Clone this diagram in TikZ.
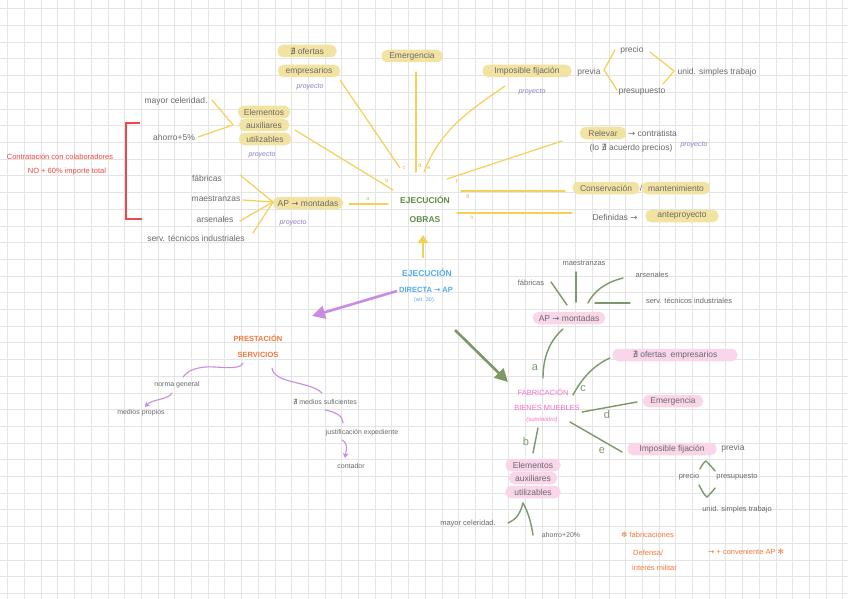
\documentclass[tikz,border=0pt]{standalone}
\usepackage{fontspec}
\setmainfont{Liberation Sans}
\newfontfamily\symf{DejaVu Sans}
\usetikzlibrary{arrows.meta}
\definecolor{gridc}{HTML}{E4E4E4}
\definecolor{txtgray}{HTML}{6A6A6A}
\definecolor{hly}{HTML}{F3E3A3}
\definecolor{hlp}{HTML}{FAD6EA}
\definecolor{ylw}{HTML}{F6CF55}
\definecolor{ylabc}{HTML}{E2B93A}
\definecolor{grn}{HTML}{7D9869}
\definecolor{grnt}{HTML}{5E8C46}
\definecolor{pinkt}{HTML}{F56EC8}
\definecolor{purp}{HTML}{C98CE2}
\definecolor{proyc}{HTML}{8A80C8}
\definecolor{bluet}{HTML}{52AAF5}
\definecolor{oranget}{HTML}{F5783C}
\definecolor{redc}{HTML}{F04848}
\begin{document}
\begin{tikzpicture}[x=1pt,y=-1pt,
 every node/.style={inner sep=0pt},
 tx/.style={text=txtgray, font=\fontsize{8.5}{10}\selectfont},
 hy/.style={tx, fill=hly, rounded corners=5.5pt, minimum height=12.5pt, inner xsep=3pt},
 hp/.style={tx, fill=hlp, rounded corners=5.5pt, minimum height=12.5pt, inner xsep=3pt},
 proy/.style={text=proyc, font=\fontsize{7}{8}\selectfont\itshape},
 yline/.style={draw=ylw, line width=1.2pt, line cap=round},
 gline/.style={draw=grn, line width=1.4pt, line cap=round},
 pline/.style={draw=purp, line width=1.1pt, line cap=round},
 ylab/.style={text=ylabc, font=\fontsize{5.5}{6}\selectfont},
 glab/.style={text=grn, font=\fontsize{11}{12}\selectfont},
 ttl/.style={font=\fontsize{8.5}{10}\selectfont\bfseries},
]
\useasboundingbox (0,0) rectangle (848,599);
\fill[white] (0,0) rectangle (848,599);
\foreach \i in {0,...,50} \draw[gridc, line width=0.6pt] ({7.6+\i*16.7},0) -- ({7.6+\i*16.7},599);
\foreach \j in {0,...,35} \draw[gridc, line width=0.6pt] (0,{8.7+\j*16.7}) -- (848,{8.7+\j*16.7});

% ===== EJECUCION OBRAS (yellow) =====
\node[ttl, text=grnt] (obras1) at (425,200) {EJECUCIÓN};
\node[ttl, text=grnt] (obras2) at (425,220) {OBRAS};

\node[hy, minimum width=59pt] (ofe1) at (307,51) {{\symf ∄} ofertas};
\node[hy, minimum width=62pt] (emp1) at (309,71) {empresarios};
\node[proy] (proy1) at (310,87) {proyecto};
\node[hy, minimum width=61pt] (emer1) at (412,56) {Emergencia};
\node[hy, minimum width=89pt] (imp1) at (527,71) {Imposible fijación};
\node[tx] (prev1) at (589,72) {previa};
\node[proy] (proy2) at (532,92) {proyecto};
\node[tx] (prec1) at (632,50) {precio};
\node[tx] (pres1) at (642,92) {presupuesto};
\node[tx] (unid1) at (717,72) {unid. simples trabajo};
\node[hy, minimum width=46pt] (rel) at (603,133) {Relevar};
\node[tx, anchor=west] (contr) at (628,133) {{\symf →} contratista};
\node[tx] (acu) at (631,148) {(lo {\symf ∄} acuerdo precios)};
\node[proy] (proy3) at (694,145) {proyecto};
\node[hy, minimum width=67pt] (cons) at (606,188) {Conservación};
\node[tx] (slash) at (641,188) {/};
\node[hy, minimum width=68pt] (mant) at (676,188) {mantenimiento};
\node[tx] (defi) at (615,217) {Definidas {\symf →}};
\node[hy, minimum width=73pt] (ante) at (682,216) {anteproyecto};

\node[hy, minimum width=52pt] (ela) at (264,112) {Elementos};
\node[hy, minimum width=50pt] (elb) at (264,125) {auxiliares};
\node[hy, minimum width=52pt] (elc) at (265,139) {utilizables};
\node[proy] (proy4) at (262,155) {proyecto};
\node[tx] (may1) at (176,101) {mayor celeridad.};
\node[tx] (aho1) at (174,137) {ahorro+5\%};

\node[tx] (fab1) at (207,178) {fábricas};
\node[tx] (mae1) at (216,199) {maestranzas};
\node[tx] (ars1) at (215,219) {arsenales};
\node[tx] (ser1) at (196,238) {serv. técnicos industriales};
\node[hy, minimum width=70pt] (apm1) at (308,203) {AP {\symf →} montadas};
\node[proy] (proy5) at (293,223) {proyecto};

% yellow connector coordinates
\coordinate (jA) at (233,125);
\draw[yline] (212,100) coordinate (may1e) -- (jA);
\draw[yline] (198,137) coordinate (aho1e) -- (jA);
\coordinate (jB) at (273,202);
\foreach \p in {(240,175),(243,200),(240,221),(253,233)} \draw[yline] \p -- (jB);

\coordinate (ca1) at (349,204); \coordinate (ca2) at (388,204);
\draw[yline] (ca1) -- (ca2); \node[ylab] at (368,199) {a};
\coordinate (cb1) at (295,130); \coordinate (cb2) at (393,190);
\draw[yline] (cb1) -- (cb2); \node[ylab] at (387,181) {b};
\coordinate (cc1) at (340,80); \coordinate (cc2) at (400,168);
\draw[yline] (cc1) -- (cc2); \node[ylab] at (404,168) {c};
\coordinate (cd1) at (416,72); \coordinate (cd2) at (416,172);
\draw[yline] (cd1) -- (cd2); \node[ylab] at (420,166) {d};
\coordinate (ce1) at (505,86); \coordinate (ce2) at (424,172);
\draw[yline] (ce1) .. controls (470,110) and (440,130) .. (ce2); \node[ylab] at (429,168) {e};
\coordinate (cf1) at (562,141); \coordinate (cf2) at (447,179);
\draw[yline] (cf1) -- (cf2); \node[ylab] at (457,182) {f};
\coordinate (cg1) at (565,191); \coordinate (cg2) at (461,191);
\draw[yline] (cg1) -- (cg2); \node[ylab] at (468,197) {g};
\coordinate (ch1) at (572,213); \coordinate (ch2) at (457,213);
\draw[yline] (ch1) -- (ch2); \node[ylab] at (472,218) {h};

\draw[yline] (615,50) -- (604,70) -- (617,90);
\draw[yline] (650,52) -- (674,71) -- (663,84);

% red bracket
\draw[redc, line width=1.8pt] (140,123) -- (126,123) -- (126,219) -- (142,219);
\node[text=redc, font=\fontsize{7.5}{9}\selectfont] (rt1) at (60,157) {Contratación con colaboradores};
\node[text=redc, font=\fontsize{7.5}{9}\selectfont] (rt2) at (67,172) {NO + 60\% importe total};

% ===== EJECUCION DIRECTA =====
\node[ttl, text=bluet] (ed1) at (427,273) {EJECUCIÓN};
\node[text=bluet, font=\fontsize{7.5}{9}\selectfont\bfseries] (ed2) at (426,290) {DIRECTA {\symf →} AP};
\node[text=bluet, font=\fontsize{5.5}{6}\selectfont] (ed3) at (424,300) {(art. 30)};
\coordinate (upa) at (423,258); \coordinate (upb) at (423,235);
\draw[draw=ylw, line width=2.2pt, -{Triangle[length=8pt,width=10pt]}] (upa) -- (upb);
\coordinate (pa1) at (397,291); \coordinate (pa2) at (312,316);
\draw[draw=purp, line width=2.6pt, -{Triangle[length=13pt,width=13pt]}] (pa1) -- (pa2);
\coordinate (ga1) at (455,330); \coordinate (ga2) at (508,382);
\draw[draw=grn, line width=2.6pt, -{Triangle[length=13pt,width=13pt]}] (ga1) -- (ga2);

% ===== PRESTACION SERVICIOS =====
\node[text=oranget, font=\fontsize{7.5}{9}\selectfont\bfseries] (ps1) at (258,338) {PRESTACIÓN};
\node[text=oranget, font=\fontsize{7.5}{9}\selectfont\bfseries] (ps2) at (258,355) {SERVICIOS};
\node[tx, font=\fontsize{7}{8}\selectfont] (nor) at (177,385) {norma general};
\node[tx, font=\fontsize{7}{8}\selectfont] (mpr) at (141,413) {medios propios};
\node[tx, font=\fontsize{7}{8}\selectfont] (msu) at (325,402) {{\symf ∄} medios suficientes};
\node[tx, font=\fontsize{7}{8}\selectfont] (jus) at (362,433) {justificación expediente};
\node[tx, font=\fontsize{7}{8}\selectfont] (cnt) at (351,466) {contador};
\draw[pline] (243,363) .. controls (240,371) and (218,366) .. (205,367) .. controls (195,368) and (187,371) .. (183,377);
\draw[pline, -{Stealth[length=5pt,width=6pt]}] (172,393) .. controls (168,400) and (152,399) .. (145,407);
\draw[pline] (272,368) .. controls (274,384) and (310,381) .. (322,393);
\draw[pline] (325,410) .. controls (336,412) and (343,416) .. (343,423);
\draw[pline, -{Stealth[length=5pt,width=6pt]}] (342,440) .. controls (349,444) and (346,451) .. (345,458);

% ===== FABRICACION BIENES MUEBLES (green) =====
\node[text=pinkt, font=\fontsize{7.5}{9}\selectfont] (fb1) at (543,392) {FABRICACIÓN};
\node[text=pinkt, font=\fontsize{7.5}{9}\selectfont] (fb2) at (547,408) {BIENES MUEBLES};
\node[text=pinkt, font=\fontsize{6}{7}\selectfont\itshape] (fb3) at (542,420) {(suministro)};

\node[hp, minimum width=72pt] (apm2) at (569,318) {AP {\symf →} montadas};
\node[tx, font=\fontsize{7.5}{9}\selectfont] (fab2) at (531,283) {fábricas};
\node[tx, font=\fontsize{7.5}{9}\selectfont] (mae2) at (584,263) {maestranzas};
\node[tx, font=\fontsize{7.5}{9}\selectfont] (ars2) at (652,275) {arsenales};
\node[tx, font=\fontsize{7.5}{9}\selectfont] (ser2) at (689,301) {serv. técnicos industriales};
\draw[gline] (551,282) -- (567,305);
\draw[gline] (576,272) -- (576,302);
\draw[gline] (623,278) .. controls (603,283) and (593,293) .. (588,303);
\draw[gline] (595,303) -- (630,303);

\coordinate (ga) at (563,329); \coordinate (gae) at (543,378);
\draw[gline] (ga) .. controls (548,342) and (543,360) .. (gae); \node[glab] at (535,368) {a};
\node[hp, minimum width=125pt] (ofe2) at (675,355) {{\symf ∄} ofertas\enspace empresarios};
\coordinate (gc1) at (573,395); \coordinate (gc2) at (610,358);
\draw[gline] (gc1) .. controls (582,378) and (594,365) .. (gc2); \node[glab] at (583,389) {c};
\node[hp, minimum width=60pt] (emer2) at (673,401) {Emergencia};
\coordinate (gd1) at (582,412); \coordinate (gd2) at (637,402);
\draw[gline] (gd1) -- (gd2); \node[glab] at (607,415) {d};
\node[hp, minimum width=89pt] (imp2) at (672,449) {Imposible fijación};
\node[tx] (prev2) at (733,448) {previa};
\coordinate (ge1) at (570,422); \coordinate (ge2) at (622,452);
\draw[gline] (ge1) -- (ge2); \node[glab] at (602,451) {e};
\coordinate (gb1) at (538,428); \coordinate (gb2) at (533,453);
\draw[gline] (gb1) -- (gb2); \node[glab] at (526,442) {b};

\node[hp, minimum width=55pt] (el2a) at (533,465) {Elementos};
\node[hp, minimum width=48pt] (el2b) at (533,478) {auxiliares};
\node[hp, minimum width=55pt] (el2c) at (533,492) {utilizables};
\coordinate (gj) at (523,503);
\draw[gline] (gj) .. controls (520,515) and (515,520) .. (508,523);
\draw[gline] (gj) .. controls (528,512) and (531,522) .. (533,535);
\node[tx, font=\fontsize{7.5}{9}\selectfont] (may2) at (468,524) {mayor celeridad.};
\node[tx, font=\fontsize{7}{8}\selectfont] (aho2) at (561,535) {ahorro+20\%};

\node[tx, font=\fontsize{7.5}{9}\selectfont] (prec2) at (689,477) {precio};
\node[tx, font=\fontsize{7.5}{9}\selectfont] (pres2) at (737,477) {presupuesto};
\node[tx, font=\fontsize{7.5}{9}\selectfont] (unid2) at (737,510) {unid. simples trabajo};
\draw[gline] (700,469) .. controls (702,465) and (704,462) .. (706,461) .. controls (709,464) and (712,467) .. (715,471);
\draw[gline] (699,485) .. controls (702,491) and (705,496) .. (707,497) .. controls (710,494) and (713,491) .. (715,488);

% orange notes
\node[text=oranget, font=\fontsize{7.5}{9}\selectfont, anchor=west] (on1) at (621,535) {{\symf ✻} fabricaciones};
\node[text=oranget, font=\fontsize{7.5}{9}\selectfont, anchor=west] (on2) at (633,553) {Defensa/};
\node[text=oranget, font=\fontsize{7.5}{9}\selectfont, anchor=west] (on3) at (632,568) {interés militar};
\node[text=oranget, font=\fontsize{7.5}{9}\selectfont, anchor=west] (on4) at (708,552) {{\symf →} + conveniente AP {\symf ✻}};
\end{tikzpicture}
\end{document}
